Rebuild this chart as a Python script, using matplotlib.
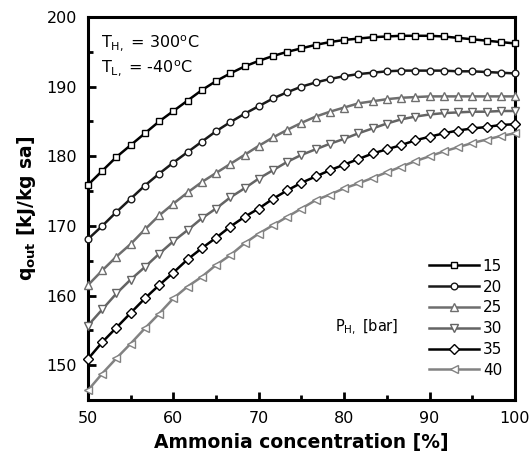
import matplotlib
matplotlib.use("Agg")
import matplotlib.pyplot as plt
import numpy as np

plt.rcParams['font.family'] = ['DejaVu Sans']

# Ammonia concentration [%] (31 points, every 5/3 %)
conc = np.linspace(50, 100, 31)

q15 = [175.9, 177.9, 179.9, 181.6, 183.3, 185.0, 186.5, 188.0, 189.5, 190.8,
       191.9, 192.9, 193.7, 194.4, 195.0, 195.5, 196.0, 196.4, 196.7, 196.9,
       197.1, 197.2, 197.3, 197.3, 197.3, 197.2, 197.0, 196.8, 196.6, 196.4, 196.2]
q20 = [168.1, 170.0, 172.0, 173.9, 175.8, 177.5, 179.1, 180.6, 182.1, 183.6,
       184.9, 186.1, 187.2, 188.3, 189.2, 190.0, 190.6, 191.1, 191.5, 191.8,
       192.0, 192.2, 192.3, 192.3, 192.3, 192.3, 192.2, 192.2, 192.1, 192.0, 191.9]
q25 = [161.5, 163.6, 165.6, 167.4, 169.5, 171.5, 173.2, 174.8, 176.3, 177.6,
       178.9, 180.2, 181.5, 182.7, 183.8, 184.8, 185.7, 186.4, 187.0, 187.6,
       187.9, 188.2, 188.4, 188.5, 188.6, 188.6, 188.6, 188.6, 188.6, 188.6, 188.6]
q30 = [155.7, 158.0, 160.3, 162.3, 164.1, 166.0, 167.8, 169.4, 171.1, 172.5,
       174.1, 175.4, 176.8, 178.0, 179.2, 180.2, 181.0, 181.8, 182.5, 183.3,
       184.0, 184.7, 185.3, 185.7, 186.0, 186.2, 186.3, 186.4, 186.4, 186.5, 186.5]
q35 = [150.9, 153.3, 155.4, 157.5, 159.6, 161.5, 163.3, 165.2, 166.8, 168.3,
       169.9, 171.3, 172.5, 173.9, 175.1, 176.2, 177.1, 178.0, 178.8, 179.6,
       180.4, 181.0, 181.6, 182.3, 182.8, 183.3, 183.7, 184.0, 184.2, 184.5, 184.6]
q40 = [146.4, 148.8, 151.0, 153.1, 155.3, 157.4, 159.6, 161.3, 162.7, 164.4,
       165.8, 167.5, 168.9, 170.1, 171.3, 172.5, 173.7, 174.5, 175.4, 176.1,
       176.9, 177.7, 178.5, 179.3, 180.0, 180.7, 181.3, 181.9, 182.4, 182.9, 183.3]

labels = ['15', '20', '25', '30', '35', '40']
series = [q15, q20, q25, q30, q35, q40]
markers = ['s', 'o', '^', 'v', 'D', '<']
colors = ['#000000', '#1a1a1a', '#6e6e6e', '#646464', '#000000', '#828282']
msizes = [4.6, 4.8, 5.6, 5.6, 4.6, 5.6]

fig = plt.figure(figsize=(5.32, 4.58), dpi=100)
ax = fig.add_axes([0.1654, 0.1266, 0.8026, 0.8363])

for y, lab, m, c, ms in zip(series, labels, markers, colors, msizes):
    ax.plot(conc, y, color=c, lw=1.8, marker=m, markersize=ms,
            markerfacecolor='white', markeredgecolor=c, markeredgewidth=1.0,
            label=lab, clip_on=False, zorder=3)

ax.set_xlim(50, 100)
ax.set_ylim(145, 200)
ax.set_xticks([50, 60, 70, 80, 90, 100])
ax.set_yticks([150, 160, 170, 180, 190, 200])
ax.set_xticks(np.arange(55, 100, 10), minor=True)
ax.set_yticks(np.arange(155, 200, 10), minor=True)
ax.tick_params(axis='both', which='major', direction='in', length=6, width=2,
               labelsize=11.5, top=False, right=False, pad=8)
ax.tick_params(axis='both', which='minor', direction='in', length=3.5, width=2,
               top=False, right=False)
for s in ax.spines.values():
    s.set_linewidth(2.2)

ax.set_xlabel('Ammonia concentration [%]', fontsize=13.5, fontweight='bold', labelpad=5)
ax.set_ylabel(r'$\mathbf{q_{out}}$ [kJ/kg sa]', fontsize=13.5, fontweight='bold', labelpad=6)

ax.text(0.03, 0.958, r'T$_{\mathregular{H,}}$ = 300$^{\mathregular{o}}$C',
        transform=ax.transAxes, fontsize=11.5, va='top', ha='left')
ax.text(0.03, 0.893, r'T$_{\mathregular{L,}}$ = -40$^{\mathregular{o}}$C',
        transform=ax.transAxes, fontsize=11.5, va='top', ha='left')
ax.text(0.578, 0.19, r'P$_{\mathregular{H,}}$ [bar]', transform=ax.transAxes,
        fontsize=10.5, va='center', ha='left')

leg = ax.legend(loc='lower right', bbox_to_anchor=(0.995, 0.03), frameon=False,
                fontsize=11, handlelength=3.3, handletextpad=0.25,
                labelspacing=0.38, borderpad=0.2)

fig.savefig('out.png', dpi=100)
